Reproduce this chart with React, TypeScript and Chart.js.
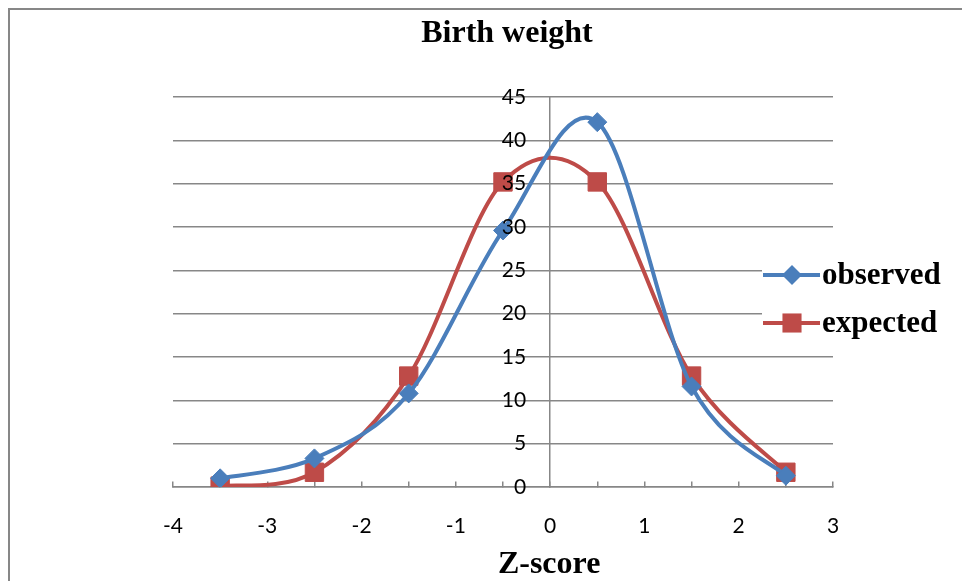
import { useEffect, useRef } from "react";
import { Chart, registerables } from "chart.js";

Chart.register(...registerables);

// Z-score bin centres and counts per bin
const zScores = [-3.5, -2.5, -1.5, -0.5, 0.5, 1.5, 2.5];
const observed = [1.0, 3.3, 10.8, 29.6, 42.1, 11.6, 1.3];
const expected = [0.1, 1.7, 12.8, 35.2, 35.2, 12.8, 1.7];

const seriesNames = ["observed", "expected"];
const chartTitle = "Birth weight";
const xAxisTitle = "Z-score";

const xMin = -4;
const xMax = 3;
const xMinorStep = 0.5;
const yMin = 0;
const yMax = 45;
const yStep = 5;
// value axis crosses at x = 0; its labels sit a little to the left of that line
const yCross = 0;
const yLabelCross = -0.255;

const BLUE = "#4A7EBB";
const RED = "#BE4B48";
const GRID = "#878787";
const SERIF = "'Liberation Serif', 'Times New Roman', serif";
const SANS = "Lato, 'Open Sans', sans-serif";

const toPoints = (ys: number[]) => zScores.map((x, i) => ({ x, y: ys[i] }));

function drawMarker(ctx: CanvasRenderingContext2D, style: string, x: number, y: number, r: number) {
  ctx.beginPath();
  if (style === "rectRot") {
    ctx.moveTo(x - r, y);
    ctx.lineTo(x, y - r);
    ctx.lineTo(x + r, y);
    ctx.lineTo(x, y + r);
    ctx.closePath();
  } else {
    const s = Math.SQRT1_2 * r;
    ctx.rect(x - s, y - s, 2 * s, 2 * s);
  }
  ctx.fill();
}

// Uniform Catmull-Rom smoothing (office-style smoothed scatter lines)
const smoothLinePlugin = {
  id: "smoothLine",
  beforeDatasetDraw(chart: any, args: any) {
    const meta = args.meta;
    const line = meta.dataset;
    if (!line) return;
    line.updateControlPoints(chart.chartArea, meta.indexAxis);
    const pts = meta.data;
    const n = pts.length;
    for (let i = 0; i < n; i++) {
      const p0 = pts[Math.max(i - 1, 0)];
      const p1 = pts[i];
      const p2 = pts[Math.min(i + 1, n - 1)];
      const dx = (p2.x - p0.x) / 6;
      const dy = (p2.y - p0.y) / 6;
      p1.cp1x = p1.x - dx;
      p1.cp1y = p1.y - dy;
      p1.cp2x = p1.x + dx;
      p1.cp2y = p1.y + dy;
    }
    line._path = undefined;
  },
};

// Chart title and the horizontal axis title
const titlesPlugin = {
  id: "titles",
  afterDraw(chart: any) {
    const { ctx, chartArea, scales } = chart;
    ctx.save();
    ctx.fillStyle = "#000";
    ctx.font = `bold 32px ${SERIF}`;
    ctx.textAlign = "center";
    ctx.textBaseline = "alphabetic";
    ctx.fillText(chartTitle, (chartArea.left + chartArea.right) / 2 + 4, 32);
    ctx.fillText(xAxisTitle, scales.x.getPixelForValue(0) - 1, 563);
    ctx.restore();
  },
};

// Legend on the right: line sample with marker, then the series name
const legendPlugin = {
  id: "sideLegend",
  afterDraw(chart: any) {
    const { ctx } = chart;
    ctx.save();
    ctx.fillStyle = "#fff";
    ctx.fillRect(752, 240, 200, 100);
    chart.data.datasets.forEach((ds: any, i: number) => {
      const y = 265 + i * 48;
      ctx.strokeStyle = ds.borderColor;
      ctx.lineWidth = ds.borderWidth;
      ctx.beginPath();
      ctx.moveTo(753, y);
      ctx.lineTo(810, y);
      ctx.stroke();
      ctx.fillStyle = ds.pointBackgroundColor;
      drawMarker(ctx, ds.pointStyle, 782, y, ds.pointRadius + 0.5);
      ctx.fillStyle = "#000";
      ctx.font = `bold 31px ${SERIF}`;
      ctx.textAlign = "left";
      ctx.textBaseline = "middle";
      ctx.fillText(ds.label, 812, y + 1);
    });
    ctx.restore();
  },
};

export default function App() {
  const canvasRef = useRef<HTMLCanvasElement | null>(null);

  useEffect(() => {
    const canvas = canvasRef.current;
    if (!canvas) return;
    const tickFont = { family: SANS, size: 21 };
    const chart = new Chart(canvas, {
      type: "line",
      data: {
        datasets: [
          {
            label: seriesNames[0],
            data: toPoints(observed),
            borderColor: BLUE,
            backgroundColor: BLUE,
            pointBackgroundColor: BLUE,
            pointBorderColor: BLUE,
            borderWidth: 4,
            pointStyle: "rectRot",
            pointRadius: 9.5,
            pointBorderWidth: 1,
            tension: 0.4,
          },
          {
            label: seriesNames[1],
            data: toPoints(expected),
            borderColor: RED,
            backgroundColor: RED,
            pointBackgroundColor: RED,
            pointBorderColor: RED,
            borderWidth: 4,
            pointStyle: "rect",
            pointRadius: 13,
            pointBorderWidth: 1,
            tension: 0.4,
          },
        ],
      },
      options: {
        responsive: false,
        animation: false,
        events: [],
        layout: { padding: { left: 163, top: 87, right: 129, bottom: 94 } },
        plugins: {
          legend: { display: false },
          title: { display: false },
          tooltip: { enabled: false },
        },
        scales: {
          x: {
            type: "linear",
            min: xMin,
            max: xMax,
            position: { y: yMin },
            ticks: {
              stepSize: xMinorStep,
              maxTicksLimit: 20,
              autoSkip: false,
              maxRotation: 0,
              padding: 33,
              color: "#000",
              font: tickFont,
              callback: (v: any) => (Number.isInteger(Number(v)) ? String(v) : ""),
            },
            grid: {
              drawOnChartArea: false,
              drawTicks: true,
              tickLength: -6,
              color: GRID,
              lineWidth: 1.5,
            },
            border: { display: true, color: GRID, width: 1.5 },
          },
          y: {
            type: "linear",
            min: yMin,
            max: yMax,
            position: { x: yCross },
            ticks: { stepSize: yStep, display: false },
            grid: { drawTicks: false, color: GRID, lineWidth: 1.5 },
            border: { display: true, color: GRID, width: 1.5 },
          },
          yLabels: {
            type: "linear",
            axis: "y",
            min: yMin,
            max: yMax,
            position: { x: yLabelCross },
            ticks: { stepSize: yStep, z: 1, color: "#000", font: tickFont },
            grid: { display: false, drawTicks: false },
            border: { display: false },
          },
        },
      },
      plugins: [smoothLinePlugin, titlesPlugin, legendPlugin],
    });
    return () => chart.destroy();
  }, []);

  return (
    <div style={{ position: "fixed", left: 8, top: 8, width: 954, height: 573, overflow: "hidden", background: "#fff" }}>
      <div style={{ borderTop: `2px solid ${GRID}`, borderLeft: `2px solid ${GRID}`, width: 1000, height: 600 }}>
        <canvas ref={canvasRef} width={952} height={571} style={{ display: "block" }} />
      </div>
    </div>
  );
}
